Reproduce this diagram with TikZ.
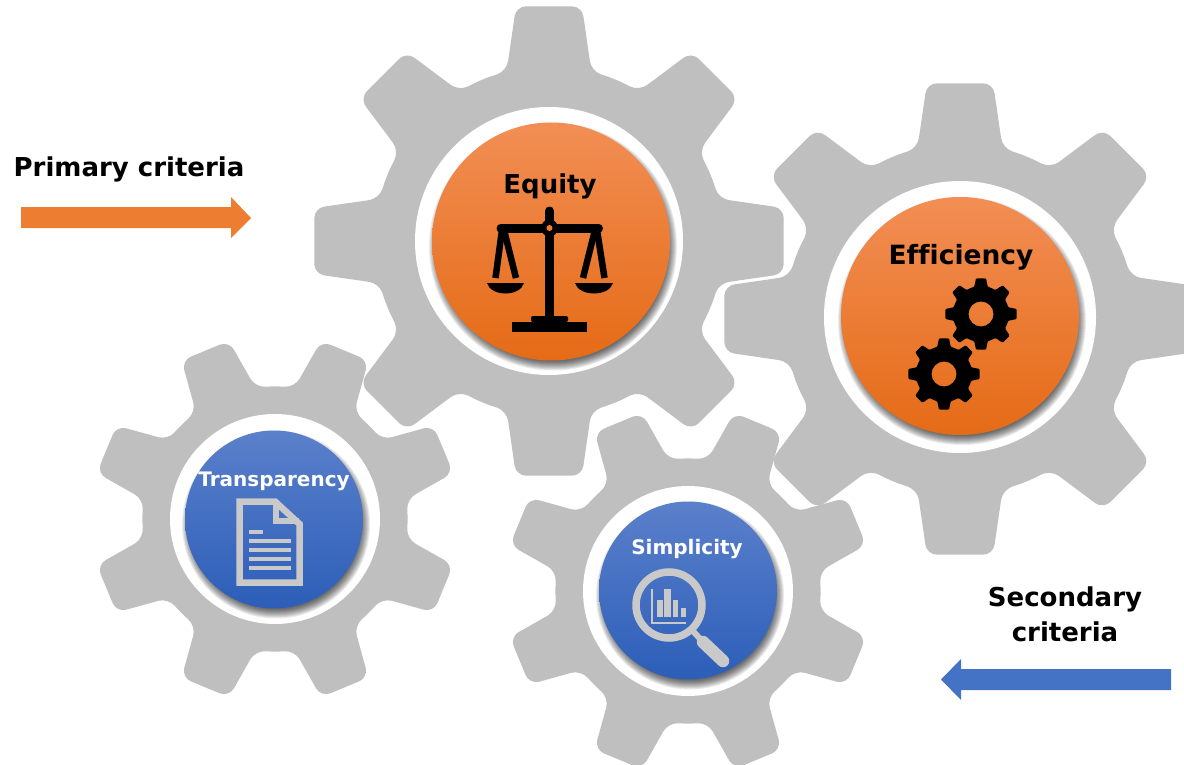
\documentclass[tikz,border=0pt]{standalone}
\usepackage{fontspec}
\setmainfont[Ligatures=NoCommon]{DejaVu Sans}
\usepackage{tikz}
\usetikzlibrary{shapes,positioning,calc}

\definecolor{cog}{HTML}{BFBFBF}
\definecolor{icongrey}{HTML}{C9C9C9}
\definecolor{arroworange}{HTML}{ED7D31}
\definecolor{arrowblue}{HTML}{4472C4}
\definecolor{orangetop}{HTML}{F28E55}
\definecolor{orangemid}{HTML}{F47A26}
\definecolor{orangelow}{HTML}{E56B16}
\definecolor{bluetop}{HTML}{5B80CB}
\definecolor{bluemid}{HTML}{3C6EC8}
\definecolor{bluelow}{HTML}{2C5EB8}

% centre, tip radius, root radius, turn
\newcommand{\cogpath}[4]{
  ([shift={(#1)}]#4+14:#3)
  foreach \a in {45,90,...,315} {
    -- ([shift={(#1)}]#4+\a-22.5:#3) -- ([shift={(#1)}]#4+\a-14:#3) -- ([shift={(#1)}]#4+\a-8:#2)
    -- ([shift={(#1)}]#4+\a+8:#2) -- ([shift={(#1)}]#4+\a+14:#3)
  } -- ([shift={(#1)}]#4-22.5:#3) -- ([shift={(#1)}]#4-14:#3) -- ([shift={(#1)}]#4-8:#2) -- ([shift={(#1)}]#4+8:#2) -- cycle
}
% name, centre, radius, top, middle, bottom
\newcommand{\cogdisc}[6]{
  \foreach \s in {1,...,10} {
    \fill [black, opacity=0.08] ($(#2)+(2,5)$) circle ({#3+6-\s});
  }
  \node [circle, minimum size=2*#3 pt, inner sep=0pt, top color=#4, middle color=#5, bottom color=#6] (#1) at (#2) {};
}

\begin{document}
\begin{tikzpicture}[x=1pt, y=-1pt,
cogfill/.style = {fill=cog, rounded corners=10pt},
bigtext/.style = {font=\fontsize{26}{35}\selectfont\bfseries},
smalltext/.style = {font=\fontsize{20}{24}\selectfont\bfseries, text=white},
blackcog/.style = {fill=black, even odd rule, rounded corners=1pt},
iconline/.style = {draw=icongrey, line width=4pt}]
\useasboundingbox (0,0) rectangle (1184,765);

\fill [cogfill] \cogpath{549,241}{237}{175}{0};
\fill [cogfill] \cogpath{960,319}{238}{176}{0};
\fill [cogfill] \cogpath{275,519}{184}{133}{22.5};
\fill [cogfill] \cogpath{688,591}{184}{133}{22.5};

\fill [white] (549,241) circle (134);
\fill [white] (960,317) circle (136);
\fill [white] (275,519) circle (105);
\fill [white] (688,591) circle (105);

\cogdisc{equity}{551,241.5}{119}{orangetop}{orangemid}{orangelow}
\cogdisc{efficiency}{960,316}{119}{orangetop}{orangemid}{orangelow}
\cogdisc{transparency}{274,519.5}{89}{bluetop}{bluemid}{bluelow}
\cogdisc{simplicity}{688,590.5}{89}{bluetop}{bluemid}{bluelow}

\node (primary) [bigtext] at (129,169.5) {Primary criteria};
\node (secondary) [bigtext, align=center] at (1065,614) {Secondary\\criteria};
\node (equitytext) [bigtext] at (550,186.5) {Equity};
\node (efficiencytext) [font=\fontsize{26.5}{30}\selectfont\bfseries] at (961,257.5) {Efficiency};
\node (transparencytext) [smalltext] at (274,481.5) {Transparency};
\node (simplicitytext) [smalltext] at (687,549.5) {Simplicity};

% arrows
\fill [arroworange] (21,207) -- (231,207) -- (231,197) -- (251,218) -- (231,238) -- (231,228) -- (21,228) -- cycle;
\fill [arrowblue] (1171,669) -- (961,669) -- (961,659) -- (941,679.5) -- (961,700) -- (961,690) -- (1171,690) -- cycle;

% scales
\draw [line width=9pt, line cap=round] (501,228) -- (598.5,228);
\draw [line width=9pt, line cap=round] (549.5,211) -- (549.5,318);
\fill (549.5,228) circle (8.5);
\fill [orangemid] (549.5,228) circle (3);
\fill (512,322) rectangle (587,332);
\fill [rounded corners=2pt] (531,322) -- (531,316) -- (568,316) -- (568,322) -- cycle;
\draw [line width=6.5pt] (495.5,278) -- (502,230);
\draw [line width=6.5pt] (516,278) -- (504,230);
\draw [line width=6.5pt] (583,278) -- (595,230);
\draw [line width=6.5pt] (604.5,278) -- (597,230);
\fill (487,283) -- (524,283) .. controls (520,297) and (491,297) .. cycle;
\fill (575,283) -- (613,283) .. controls (609,297) and (579,297) .. cycle;

% small cogs
\fill [blackcog] \cogpath{981,314}{36}{28}{0} (981,314) circle (12.5);
\fill [blackcog] \cogpath{944,374}{36}{28}{0} (944,374) circle (12.5);

% page
\draw [draw=icongrey, line width=6.5pt, line join=miter] (239.5,501.5) -- (275,501.5) -- (299.5,524) -- (299.5,582.5) -- (239.5,582.5) -- cycle;
\draw [draw=icongrey, line width=6.5pt] (276,500) -- (276,521) -- (299,521);
\draw [iconline] (249,532) -- (263,532);
\draw [iconline] (249,541) -- (291,541);
\draw [iconline] (249,550) -- (291,550);
\draw [iconline] (249,559) -- (291,559);
\draw [iconline] (249,568) -- (291,568);

% lens
\draw [draw=icongrey, line width=7.5pt] (669,605) circle (33);
\draw [draw=icongrey, line width=6pt] (692,630) -- (703,642);
\draw [draw=icongrey, line width=12.5pt, line cap=round] (703,642) -- (723,661);
\fill [icongrey] (656.7,600) rectangle (662.7,617.3);
\fill [icongrey] (664,589) rectangle (671,617.3);
\fill [icongrey] (672.7,600) rectangle (678.3,617.3);
\fill [icongrey] (680.7,608.3) rectangle (686,617.3);
\draw [draw=icongrey, line width=2pt] (651.7,589) -- (651.7,622.7) -- (686,622.7);

\end{tikzpicture}
\end{document}
